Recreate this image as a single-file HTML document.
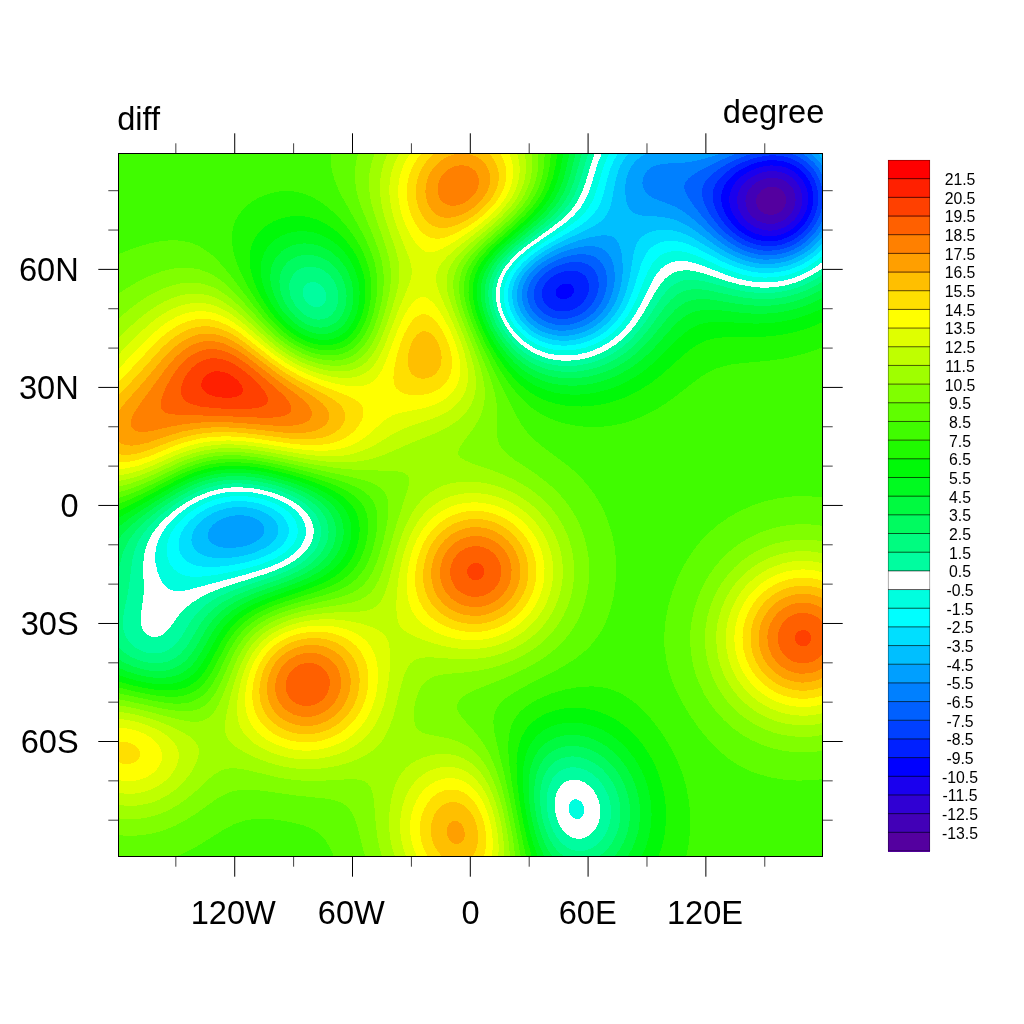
<!DOCTYPE html>
<html><head><meta charset="utf-8"><title>diff</title>
<style>html,body{margin:0;padding:0;background:#fff;}body{width:1024px;height:1024px;position:relative;overflow:hidden;font-family:"Liberation Sans",sans-serif;}.t{font-family:"Liberation Sans",sans-serif;}</style></head>
<body>
<svg width="1024" height="1024" viewBox="0 0 1024 1024" style="position:absolute;left:0;top:0">
<g shape-rendering="crispEdges" fill-rule="evenodd" transform="scale(0.1)">
<rect x="1180" y="1530" width="7050" height="7040" fill="#54009f"/>
<path fill="#4200b7" d="M1195 1530l7035 0 0 7040-7050 0 0-7040zM7673 1875l-28 11-30 19-30 31-15 27-5 17-5 30 4 30 6 20 15 27 26 28 23 15 26 12 30 6 30 1 30-5 30-12 27-17 18-17 20-28 16-45 2-30-5-30-13-30-10-15-14-15-26-18-30-13-30-5-30 0z"/>
<path fill="#3000d3" d="M1195 1530l7035 0 0 7040-7050 0 0-7040zM7659 1785l-44 14-45 22-45 34-31 35-19 30-16 45-5 45 5 45 16 45 29 45 29 30 42 30 40 19 45 12 60 3 45-7 45-16 45-26 34-30 26-32 23-43 14-45 4-45-4-45-15-45-17-30-25-30-40-32-45-21-45-11-45-3z"/>
<path fill="#1a00ee" d="M1195 1530l7035 0 0 7040-7050 0 0-7040zM7622 1725l-52 18-60 32-53 40-40 45-26 45-11 30-7 30-3 45 9 60 24 60 32 48 45 46 60 41 60 26 60 13 45 2 30-2 60-12 60-25 45-29 45-42 37-51 27-60 13-60 1-60-12-60-19-45-32-47-45-42-52-31-53-19-60-9-60 0z"/>
<path fill="#0000ff" d="M1195 1530l7035 0 0 7040-7050 0 0-7040zM7625 1665l-70 21-75 34-33 20-40 30-46 45-23 30-18 30-22 60-7 60 7 60 14 45 13 30 37 60 54 60 64 49 45 25 30 13 75 20 75 6 75-9 75-25 60-34 55-45 49-60 33-60 13-35 10-40 7-75-7-60-10-39-14-36-31-52-49-53-56-39-60-27-75-17-75-3z"/>
<path fill="#0020ff" d="M1195 1530l7035 0 0 7040-7050 0 0-7040zM7673 1605l-88 16-90 30-87 44-45 30-33 26-48 49-23 30-18 30-22 60-5 30-1 45 3 30 10 45 17 45 24 45 53 75 28 30 42 38 75 51 75 34 45 13 45 9 45 4 45-1 45-5 45-10 75-28 74-45 61-56 49-64 37-75 21-75 6-45 0-45-10-75-13-41-15-35-16-29-29-41-30-32-30-26-31-21-44-24-75-26-75-11-45-2zM5659 2835l-24 4-30 12-30 25-15 26-4 23 1 15 6 15 12 16 30 18 30 4 30-4 15-6 22-13 16-15 18-30 4-30-3-15-12-21-15-12-15-7z"/>
<path fill="#0040ff" d="M1195 1530l7035 0 0 7040-7050 0 0-7040zM7642 1560l-102 22-106 38-61 30-52 30-80 60-58 60-20 30-16 30-11 30-7 30-3 30 2 45 10 45 15 45 21 45 26 45 32 45 38 45 46 45 44 37 45 31 45 25 60 26 45 15 45 10 45 6 60 2 45-4 45-7 45-13 45-17 45-22 45-28 39-31 36-35 30-35 25-35 26-45 20-45 15-45 10-45 5-45 1-45-4-45-8-45-14-45-16-37-21-38-24-35-30-34-60-51-30-19-45-22-45-17-45-12-90-11-60 1zM5636 2715l-45 15-33 15-43 27-30 26-21 22-24 36-16 39-5 30 2 45 9 30 17 30 23 27 30 23 30 16 30 11 45 7 60-2 45-10 45-20 45-30 37-37 30-45 17-45 7-45-3-45-15-45-21-30-37-30-34-15-41-8-45-1z"/>
<path fill="#0060ff" d="M1195 1530l6354 0-101 30-109 45-112 60-86 60-35 30-29 30-23 30-16 30-11 30-6 30-1 30 3 30 11 45 17 45 31 60 28 45 44 60 39 45 43 45 51 45 88 62 50 28 55 24 60 20 45 10 45 6 60 3 90-8 45-10 45-14 45-19 45-24 75-53 30-27 40-43 50-71 39-79 15-45 10-45 7-45 3-45-6-75-8-45-14-45-35-75-26-39-29-36-61-56-30-21-45-26-45-19-38-13 338 0 0 7040-7050 0 0-7040zM5692 2625l-57 13-60 22-52 25-53 34-45 38-30 33-29 45-19 45-9 45 0 45 11 45 21 45 36 45 34 29 45 26 45 17 60 11 75 0 75-17 60-26 60-40 46-45 41-60 18-39 12-36 7-30 4-45-5-60-8-30-12-30-31-45-42-34-30-14-30-10-60-8z"/>
<path fill="#0080ff" d="M1195 1530l6189 0-99 38-116 52-121 60-81 45-46 30-37 30-25 30-13 30-3 15 2 30 15 45 25 45 51 75 82 105 78 90 75 75 71 60 62 45 71 43 69 32 66 23 75 17 75 7 75-2 60-8 75-20 60-24 69-38 62-45 49-46 50-59 39-60 31-64 0 6384-7050 0 0-7040zM5729 2550l-79 19-75 28-60 29-72 44-55 45-43 45-31 45-24 49-15 56-2 60 13 60 19 45 30 46 45 46 45 31 60 29 75 20 45 4 45 0 45-5 45-9 75-28 45-24 30-21 36-29 30-30 24-30 30-44 35-76 13-45 9-45 3-45-1-45-7-45-8-30-20-45-20-30-19-21-30-24-30-16-30-11-30-7-45-4-45 1zM8020 1530l210 0 0 234-37-69-46-60-65-60-69-45z"/>
<path fill="#009fff" d="M1195 1530l6029 0-164 53-120 30-105 14-195 10-60 11-45 15-30 17-30 24-18 21-17 30-11 30-5 45 3 30 10 30 18 30 13 15 22 19 30 20 47 21 163 62 45 22 60 37 90 69 231 200 59 45 67 45 63 36 60 28 71 26 64 17 60 10 45 4 90-2 60-8 45-10 90-31 45-22 45-26 75-55 44-42 31-34 32-41 28-44 0 6289-7050 0 0-7040zM5775 2475l-95 25-90 34-90 44-75 46-60 46-60 60-33 45-32 60-17 60-5 30 0 45 10 60 23 60 38 60 46 49 60 45 60 30 45 15 45 11 45 6 45 1 60-4 45-9 45-12 45-17 45-22 45-28 45-35 30-29 30-34 31-42 27-45 21-45 16-45 16-60 9-60 3-60-4-60-8-45-13-45-23-48-19-27-31-30-40-23-30-11-45-8-45-2-60 5zM8110 1530l120 0 0 139-30-42-30-34-34-33-38-30z"/>
<path fill="#00bfff" d="M1195 1530l5299 0-41 15-38 20-36 25-31 30-24 30-27 45-19 45-13 45-10 60-3 60 4 60 9 52 12 38 18 35 30 32 30 17 30 9 45 8 150 10 75 9 60 13 60 20 60 27 75 43 256 182 70 45 64 36 75 36 75 28 75 20 75 12 90 3 90-8 90-20 75-27 75-38 83-57 67-61 60-71 0 6212-7050 0 0-7040zM6006 2355l-101 17-120 33-120 44-120 54-90 49-90 62-65 56-55 63-28 42-16 30-22 60-10 60-1 45 3 30 10 45 10 30 20 45 18 30 46 60 60 53 45 30 45 23 45 17 60 16 45 7 60 3 45-2 60-9 60-15 45-16 45-21 46-26 44-31 45-38 35-36 36-45 34-53 30-58 27-69 17-60 14-75 8-75 1-75-5-75-9-60-17-60-12-30-24-35-30-24-30-12-45-6zM2307 5160l-62 18-60 28-30 21-27 23-34 45-16 45 1 30 4 15 17 30 15 15 21 15 49 21 42 9 33 4 75 0 75-10 75-19 60-26 45-29 26-25 12-15 8-15 9-30-2-30-4-15-19-31-15-15-30-22-45-22-45-14-30-5-75-4zM8185 1530l45 0 0 61-59-61z"/>
<path fill="#00dfff" d="M1195 1530l5099 0-29 31-32 44-26 45-20 45-31 105-36 195-13 60-15 45-14 30-31 45-47 45-68 45-72 37-210 98-105 53-92 52-88 59-75 60-60 61-45 60-18 30-21 45-14 45-8 45-2 45 5 60 11 45 16 45 22 45 29 45 36 45 34 34 45 36 45 29 45 22 45 18 45 13 60 11 75 5 75-4 75-14 75-24 75-34 60-38 60-47 52-52 47-60 38-60 30-60 30-75 23-75 18-75 46-270 24-75 22-39 31-36 42-30 47-21 60-16 75-7 75 5 75 18 60 22 75 36 270 164 73 39 62 29 75 30 75 22 75 15 75 8 90-1 75-9 90-21 75-28 75-38 75-49 60-50 60-62 0 6144-7050 0 0-7040zM2263 5085l-48 13-49 17-41 19-46 26-42 30-34 30-28 31-31 44-14 30-13 45-3 30 3 30 10 30 17 30 30 30 22 15 29 15 43 15 42 9 60 6 60 1 75-4 75-10 60-12 60-15 60-20 90-41 31-19 38-30 28-30 20-30 12-30 5-30-1-30-8-30-16-30-23-30-34-30-37-24-42-21-48-18-46-12-59-10-60-4-45 0-45 4z"/>
<path fill="#00ffff" d="M1195 1530l4989 0-46 75-37 90-23 75-46 180-26 75-30 60-42 60-59 57-64 48-86 53-270 154-90 59-75 57-72 67-51 60-42 66-29 69-11 45-6 60 1 45 10 60 18 60 20 45 25 45 32 45 39 45 36 34 45 35 45 28 45 23 60 23 45 13 60 11 75 5 75-4 75-12 75-21 74-30 61-33 61-42 68-60 42-45 45-60 38-60 38-75 47-120 78-255 18-45 23-45 32-45 29-30 36-26 45-22 60-16 60-4 60 6 60 14 60 21 60 26 258 136 132 58 75 25 75 19 75 12 60 5 90-1 75-9 90-20 75-27 75-35 70-42 65-49 60-55 0 6079-7050 0 0-7040zM2247 5025l-62 16-60 20-60 28-60 34-51 37-51 45-41 45-31 45-24 45-15 45-7 45 1 45 11 45 24 45 26 30 38 29 45 22 45 13 60 9 60 3 75-3 90-9 90-14 90-18 75-19 75-24 60-23 60-28 46-28 44-33 30-29 32-43 14-30 12-45-1-45-12-45-26-45-26-30-33-30-44-30-59-30-52-20-60-18-60-12-75-8-60-1-60 3z"/>
<path fill="#00fedf" d="M1195 1530l4901 0-30 60-30 75-67 225-31 90-38 75-42 60-56 60-73 60-88 60-261 166-81 59-69 57-63 63-48 60-39 67-26 68-11 45-5 60 1 45 9 60 17 59 19 46 26 51 35 54 40 49 41 41 49 41 45 30 45 25 60 26 60 19 60 12 75 7 75-1 90-12 75-18 75-28 75-37 60-38 60-47 45-43 50-56 44-60 38-60 60-120 108-264 45-80 30-39 30-29 32-23 43-21 45-13 60-6 45 3 60 11 105 35 255 116 135 51 75 22 75 16 75 9 60 3 90-3 75-10 75-17 75-25 75-33 75-43 60-42 60-50 0 6017-7050 0 0-7040zM2296 4965l-81 13-75 20-75 29-86 43-69 45-57 45-62 60-49 60-36 60-24 60-14 60-1 60 10 60 24 60 34 48 45 38 45 22 45 13 60 7 75-1 90-9 105-16 135-27 120-28 105-29 75-25 75-30 60-29 60-36 43-33 32-30 35-45 23-45 13-45 2-45-8-45-18-45-31-45-31-33-45-37-57-35-63-30-60-22-75-20-75-14-75-8-75-1z"/>
<path fill="#ffffff" d="M1195 1530l4825 0-43 105-68 225-27 75-35 75-48 75-59 67-77 68-81 60-262 180-78 60-67 60-65 71-45 64-32 60-24 75-8 45-3 60 5 60 12 60 20 60 27 60 33 56 35 49 40 48 45 44 45 36 60 40 45 24 60 25 60 18 60 12 75 8 75-1 90-10 75-17 75-24 75-34 75-43 60-44 59-52 44-45 49-60 42-60 69-120 112-228 30-52 25-35 35-41 30-26 36-23 39-17 45-11 45-4 45 2 45 7 105 30 253 98 122 40 75 18 75 13 75 8 60 1 75-4 75-9 75-17 75-24 75-31 60-31 75-48 60-46 0 5955-7050 0 0-7040zM2284 4920l-99 17-96 28-99 42-87 48-86 60-71 60-71 75-54 75-38 75-23 75-9 75 4 75 19 90 30 75 16 30 25 34 15 15 30 22 30 13 45 8 60-3 60-11 555-148 180-54 75-26 72-30 61-30 47-27 47-33 35-30 38-40 25-35 22-45 14-45 3-60-7-45-17-45-27-45-39-45-53-45-71-44-64-31-80-30-81-23-90-17-75-8-90-2zM5737 7995l-12 5-15 12-17 28-6 30 4 45 12 30 22 28 30 17 30 0 15-6 15-11 18-28 8-30-3-45-12-30-11-17-15-14-30-15-15-2z"/>
<path fill="#00fd9f" d="M1195 1530l4754 0-32 90-58 195-32 90-42 90-48 75-57 66-74 69-96 75-250 182-71 58-63 60-61 70-44 65-35 75-20 75-7 60 2 60 8 60 16 60 22 60 29 60 36 60 38 53 45 52 45 44 45 37 60 40 60 32 60 24 60 18 60 13 75 8 75 0 90-8 75-15 75-22 75-31 75-39 75-49 60-48 45-43 47-51 48-60 79-120 126-220 60-84 30-32 30-26 30-19 45-21 45-11 45-4 45 1 45 6 90 22 255 84 120 32 135 23 75 5 60 0 75-5 75-11 75-17 60-19 75-30 60-29 75-45 60-42 0 5892-7050 0 0-7040zM2311 4875l-114 15-117 31-109 44-110 60-109 75-106 90-43 45-39 45-33 45-28 45-22 45-23 60-11 45-10 60-5 90 5 180 0 75-7 75-20 135-4 60 3 45 12 45 14 25 15 19 30 24 30 12 45 5 43-10 32-17 30-23 30-32 100-138 54-60 72-60 89-56 100-49 112-45 118-40 330-104 96-36 84-37 90-49 67-49 60-60 38-55 22-50 14-60-1-60-10-45-19-45-36-56-45-47-45-37-62-40-88-44-81-31-84-25-90-20-90-12-90-5zM5705 7800l-40 13-30 18-30 29-30 47-16 43-11 60-1 60 7 60 16 60 20 50 30 50 30 36 36 29 39 21 45 11 45-1 45-14 45-28 34-34 26-38 23-52 11-45 6-60-5-60-16-60-20-45-29-46-45-48-45-31-45-20-45-8z"/>
<path fill="#00fc80" d="M1195 1530l4688 0-80 270-26 75-40 90-46 75-60 75-76 75-91 75-256 195-69 60-61 60-58 71-41 64-33 75-19 75-6 60 2 60 8 60 20 75 24 63 35 72 36 60 44 60 50 58 45 44 45 38 60 41 60 33 60 26 60 19 75 17 75 8 75 2 90-7 75-14 90-24 75-29 75-37 67-40 53-38 60-51 47-46 54-60 89-120 140-216 60-75 30-29 32-25 28-18 45-19 30-9 45-6 45-1 45 4 90 16 255 70 120 26 135 16 120 1 75-6 75-12 60-14 75-23 75-30 60-28 60-34 60-40 0 5827-7050 0 0-7040zM3072 2835l-17 13-13 17-7 15-8 30 4 45 11 30 13 22 15 19 21 19 39 21 30 6 15 0 30-8 15-8 25-26 8-15 8-30 1-30-6-30-21-43-30-32-23-15-22-9-30-6-15 1-15 2zM2220 4845l-110 24-120 41-113 55-123 75-122 90-69 60-46 45-77 90-31 45-26 45-37 90-23 90-33 270-13 75-38 180-9 60-2 45 2 45 9 45 16 45 15 28 23 32 29 30 38 30 30 17 30 14 45 14 45 8 30 2 45-2 30-6 45-15 30-16 45-33 53-58 37-54 85-141 57-75 59-60 58-45 98-60 123-57 128-48 322-109 101-41 79-38 75-44 69-53 57-60 39-60 24-60 12-60-1-60-15-60-28-60-37-50-56-55-62-45-79-45-103-45-105-35-102-25-108-18-105-8-90 1zM5671 7680l-51 19-30 18-28 23-37 45-30 60-21 75-8 75 3 90 12 75 20 75 31 75 43 73 45 52 45 36 30 17 30 12 30 7 30 4 60-4 60-20 30-16 30-21 50-50 41-60 33-75 17-75 5-75-3-45-6-45-11-45-16-45-35-69-49-66-56-53-60-38-31-14-44-14-60-8-30 1z"/>
<path fill="#00fb60" d="M1195 1530l4625 0-62 225-29 90-38 90-52 90-58 75-74 75-86 75-264 210-67 60-58 60-59 75-44 75-28 75-15 75-3 60 6 75 11 60 23 75 31 75 36 69 45 71 45 61 47 54 58 55 45 37 60 41 60 32 60 26 75 24 60 12 75 10 90 2 75-5 90-15 75-19 75-25 75-33 75-41 60-40 60-46 51-45 59-60 87-105 163-224 60-67 60-49 34-20 41-17 30-8 45-7 45-2 45 3 90 14 225 49 120 21 135 13 120-2 75-7 60-10 60-14 75-22 60-22 75-33 60-31 60-37 0 5757-2251 0 61-45 30-30 29-35 39-60 34-75 21-75 12-90-1-90-15-90-29-90-38-75-52-74-59-61-61-46-75-39-75-23-75-8-60 6-60 17-30 15-30 19-45 41-36 48-29 60-22 75-11 75-2 90 10 105 21 105 29 90 40 90 45 72 45 52 56 46-4466 0 0-2104 27 29 33 29 60 40 75 35 75 22 75 11 75 0 75-16 60-26 30-19 30-24 49-52 43-60 97-165 39-60 62-75 66-60 87-60 116-60 131-54 274-96 116-44 105-48 90-52 49-36 41-36 36-39 33-45 24-45 18-45 10-45 5-45-4-60-17-60-30-60-33-45-44-45-57-45-71-45-80-40-90-37-105-34-105-26-105-19-105-11-90-2-90 5-93 14-87 21-90 31-86 38-86 45-99 60-109 75-96 75-85 75-58 60-38 45-42 60-33 60-25 60-19 60-18 75-16 92 0-4217zM3052 2670l-42 13-45 27-33 35-25 45-13 45-2 45 8 60 15 45 31 60 34 45 45 43 45 30 45 20 60 13 45-2 45-13 30-17 33-29 27-39 20-51 8-45 1-45-9-60-15-45-24-45-26-36-30-31-45-34-45-22-45-12-45-5z"/>
<path fill="#00fa40" d="M1195 1530l4562 0-48 195-32 105-37 90-50 90-57 75-86 90-85 75-252 207-68 63-56 60-56 75-42 75-27 75-14 75-2 60 6 75 16 75 24 75 31 75 38 75 46 75 54 75 50 59 60 59 45 38 60 43 60 35 75 33 60 20 75 18 75 10 90 4 90-6 75-10 90-21 75-24 75-31 75-38 60-37 60-42 62-50 58-55 101-110 154-192 74-78 61-46 30-17 45-19 75-15 90-2 90 10 210 36 120 15 135 7 120-5 135-21 120-33 120-47 120-64 0 5681-2091 0 51-65 45-79 34-86 22-90 9-90-3-105-15-90-27-90-41-90-46-75-63-75-65-59-75-50-75-35-45-15-45-10-75-8-75 6-60 16-60 28-50 37-42 45-38 60-31 75-17 75-10 90 0 105 11 105 19 105 28 105 39 105 45 90 44 65-4348 0 0-1981 71 41 79 34 90 28 90 16 75 3 75-6 60-15 66-30 62-45 55-60 51-75 94-165 47-73 60-74 60-56 47-37 45-30 118-63 135-56 270-97 120-47 110-52 85-51 51-39 39-36 34-39 32-45 24-45 17-45 12-45 6-60-3-60-11-45-24-60-28-45-37-45-48-45-62-45-62-37-77-38-103-42-102-33-93-25-93-20-102-16-105-8-90-1-75 6-60 8-60 11-75 21-71 24-64 27-135 68-93 55-115 75-106 75-78 60-71 60-47 45-55 60-35 47 0-3872zM3036 2550l-41 8-30 9-54 28-21 15-30 29-33 46-24 60-9 60 4 75 19 75 33 75 50 75 55 60 36 30 34 24 38 21 35 15 62 17 45 4 30-2 30-4 30-10 45-23 30-23 18-19 32-45 27-60 14-60 5-75-6-60-20-75-26-60-40-60-49-53-45-36-60-33-60-20-60-10z"/>
<path fill="#00fa20" d="M1195 1530l4501 0-40 180-29 105-36 90-49 90-67 90-70 75-82 75-258 218-70 67-54 60-55 75-40 75-26 75-8 45-5 45 1 75 11 75 19 75 26 75 36 82 45 86 45 73 60 83 45 54 60 63 60 52 60 43 60 35 75 35 60 21 75 18 75 12 90 5 90-3 75-9 75-14 90-25 90-33 75-35 105-61 105-79 66-58 60-60 174-196 60-61 75-60 45-26 45-19 75-17 90-5 90 6 210 25 120 9 120 1 105-7 120-19 120-32 120-44 120-59 0 5594-1956 0 51-91 37-94 24-90 13-105 1-105-13-105-26-105-41-105-50-90-65-88-75-77-75-58-75-44-90-37-90-22-90-6-75 7-75 20-60 27-60 42-45 46-45 68-27 62-21 75-13 90-4 105 6 120 16 120 25 120 33 122 37 103 45 95-4267 0 0-1895 90 39 105 33 90 20 90 11 75 1 75-9 72-20 60-30 33-23 30-26 30-31 32-40 49-75 109-195 62-90 69-75 69-57 98-63 125-60 113-45 293-105 136-58 105-58 48-34 37-30 35-35 34-40 30-45 24-45 17-45 12-45 8-45 2-45-6-60-11-45-25-60-28-45-38-45-49-45-60-44-52-31-83-42-90-38-105-36-105-31-105-26-105-19-105-13-90-5-135 4-120 19-120 33-123 49-147 75-199 120-228 150-128 98 0-3743zM2959 2445l-39 11-43 19-32 18-30 22-48 50-27 42-15 33-10 30-9 45-3 75 5 45 9 45 31 90 47 90 30 45 36 45 74 73 75 54 79 38 41 13 45 10 45 3 45-2 41-9 34-12 55-33 50-49 28-41 16-30 28-75 9-45 6-45 0-90-15-90-27-79-37-71-53-71-60-58-30-23-45-28-75-33-75-18-75-5-45 4z"/>
<path fill="#00f908" d="M1195 1530l4439 0-27 150-31 120-40 105-50 90-55 75-82 90-81 75-248 214-73 71-52 60-53 75-39 75-24 75-8 45-4 45 3 75 11 75 19 75 31 90 40 90 46 90 58 96 60 86 60 74 60 64 60 54 60 45 60 37 75 36 60 22 75 21 75 13 90 8 90-1 90-8 90-16 90-23 90-31 75-33 120-67 105-73 120-105 180-182 75-69 75-55 45-23 45-18 75-17 75-7 90 1 210 13 105 4 120-3 105-11 120-22 105-28 120-43 105-49 0 5490-1817 0 43-95 32-105 20-105 8-120-7-120-22-120-31-105-45-105-62-105-68-90-76-77-90-71-90-53-45-20-60-22-90-22-60-8-45-2-90 6-75 17-75 28-45 25-30 21-48 43-47 60-39 75-25 75-16 90-7 105 3 120 13 135 22 135 32 150 37 135 44 125-4199 0 0-1823 105 36 105 29 105 20 105 11 75-1 75-10 72-22 58-30 35-25 39-35 26-30 34-45 51-82 102-188 63-94 33-41 42-43 73-62 47-32 60-35 120-57 120-47 300-106 126-53 59-30 50-30 80-60 32-30 38-45 31-45 25-45 19-45 18-60 10-60 2-45-4-60-9-45-22-60-25-45-34-45-45-45-58-45-68-41-75-39-95-40-115-41-120-36-120-31-105-21-105-16-105-9-120 0-120 12-120 26-120 40-105 47-120 62-525 304 0-3652zM2907 2325l-47 14-45 19-45 26-30 22-30 27-35 42-25 39-17 36-14 45-9 45-3 45 2 45 5 45 13 60 14 45 24 60 29 60 35 60 71 98 45 50 45 42 45 36 45 31 49 28 56 24 60 19 45 8 45 3 45-2 45-8 45-16 30-15 41-28 32-30 25-30 29-45 22-45 17-45 12-45 9-45 7-60 2-60-3-45-8-60-10-45-31-90-47-90-31-45-36-44-30-32-45-39-75-52-45-23-45-19-45-14-45-9-45-5-60-1-45 5z"/>
<path fill="#20fa00" d="M1195 1530l4378 0-19 135-28 120-38 105-47 90-64 90-82 90-80 75-240 210-76 75-52 60-32 45-28 45-33 75-20 75-6 45-1 45 5 75 17 90 27 90 35 90 48 105 56 105 60 100 75 109 60 75 60 65 60 55 60 47 60 38 60 31 75 31 75 22 75 15 90 10 90 2 90-5 90-12 90-19 90-27 90-34 120-59 120-76 126-98 204-185 67-55 83-55 45-22 45-17 75-18 75-9 90-3 285-2 105-7 105-13 120-24 105-29 90-31 105-45 0 5350-1647 0 38-110 15-60 13-75 12-120-2-135-15-120-32-135-42-120-59-120-66-105-45-59-40-46-50-51-44-39-91-68-45-27-60-31-105-40-105-24-60-6-60-2-105 8-90 20-90 33-75 41-66 51-29 30-25 32-42 73-27 75-18 90-8 105 2 120 12 135 23 165 33 180 40 177 44 158-4139 0 0-1758 120 35 120 28 105 19 105 10 90 0 75-11 60-18 60-30 45-33 30-28 30-34 30-40 49-80 116-218 64-97 64-75 37-35 45-37 48-33 57-34 60-31 75-34 135-51 300-102 120-48 61-30 51-30 43-30 40-33 41-42 35-45 29-45 29-60 17-45 17-60 10-60 4-60-4-60-12-60-23-60-26-45-37-45-49-45-46-33-60-36-75-38-105-43-129-45-126-38-135-34-120-26-105-17-105-11-135-3-120 9-120 23-105 31-90 36-97 45-383 204-210 104 0-3578zM2845 2175l-60 18-45 19-45 24-45 31-45 40-30 35-29 43-22 45-15 45-11 60-3 45 2 60 10 60 15 60 20 60 24 60 37 75 34 60 49 75 45 60 52 60 61 60 54 45 52 37 60 35 60 28 60 20 60 13 60 5 45-2 60-10 45-16 45-24 35-26 31-30 36-45 28-45 22-45 22-60 17-60 11-60 6-60 2-60-3-60-7-60-13-60-19-60-24-60-24-50-32-55-42-60-38-45-38-41-45-42-45-35-60-40-60-31-45-18-45-14-60-13-45-5-60 0-60 5z"/>
<path fill="#40fc00" d="M1195 1530l4315 0-13 135-21 105-35 105-45 90-61 90-79 90-94 90-254 225-72 75-49 60-47 75-21 45-16 45-15 75-3 90 11 90 22 90 35 105 44 105 58 123 75 141 75 127 75 113 60 80 60 70 60 60 60 51 60 42 75 42 75 33 90 30 90 21 75 12 75 8 90 2 75-3 90-11 75-14 75-19 90-30 75-31 75-37 75-42 75-47 75-53 210-163 75-55 75-46 75-34 77-25 88-18 101-12 259-23 180-27 90-21 90-24 90-30 90-34 0 5099-1371 0 16-65 13-75 14-135 1-135-14-150-25-135-39-135-53-135-68-135-83-135-101-134-97-106-53-49-45-37-90-60-45-23-60-25-45-14-60-13-60-8-60-2-120 7-135 25-135 39-75 30-60 27-98 58-40 30-33 30-28 30-33 45-17 30-19 45-19 75-10 90 1 105 12 135 24 180 39 225 50 255 53 245-4082 0 0-1697 150 37 135 29 120 20 90 8 90 0 75-11 60-19 60-32 45-35 30-30 57-75 48-82 111-218 35-60 34-50 31-40 40-45 79-69 60-42 60-35 60-30 75-32 135-49 324-103 117-45 62-30 51-30 41-30 35-30 42-45 34-45 35-60 27-60 21-60 19-75 11-75 4-60-3-60-11-60-22-60-26-45-38-45-33-30-60-43-57-32-93-42-105-39-119-39-157-45-144-37-135-29-120-20-105-12-135-6-120 7-120 19-105 29-75 27-90 38-405 205-120 54-105 42 0-3512zM2757 1920l-62 15-60 21-60 28-60 37-45 35-45 44-35 45-35 60-17 45-14 60-6 60 2 60 9 60 14 60 24 75 30 75 50 105 49 90 65 105 63 90 59 75 68 75 64 62 72 58 67 45 71 38 75 31 75 20 75 10 60-1 60-9 60-20 45-24 45-33 40-42 34-45 26-45 28-60 22-60 20-75 14-75 8-75 2-75-4-60-10-70-15-65-18-60-24-60-33-69-45-79-45-67-60-79-60-68-60-60-60-53-60-45-45-29-60-33-60-25-60-18-60-11-60-4-60 2z"/>
<path fill="#60fe00" d="M3310 1530l2137 0-6 120-17 105-31 105-42 90-59 90-76 90-91 90-269 240-72 75-58 75-43 75-19 45-13 45-8 45-4 45 0 45 6 60 19 90 27 90 39 105 50 117 90 192 240 489 60 116 45 76 60 81 75 77 75 63 246 184 71 60 73 72 69 78 55 75 48 75 48 90 44 105 42 135 24 120 13 120 4 120-8 135-19 135-29 120-43 120-28 60-34 60-64 90-40 45-46 45-94 75-117 75-125 68-279 142-127 75-61 45-46 45-33 45-21 45-11 45-3 45 2 45 8 60 22 105 84 349 45 205 63 316 50 275-1866 0-47-103-45-70-54-57-36-27-30-18-45-22-60-22-120-31-150-24-135-9-75 3-75 11-71 19-64 25-105 56-195 123-105 62-90 45-92 39-568 0 0-1639 360 78 105 17 90 9 75 0 75-10 60-20 55-30 35-27 30-30 30-36 30-44 49-88 116-240 62-105 33-45 40-47 44-43 46-38 60-42 60-35 72-35 78-32 165-55 315-89 120-42 47-22 54-30 42-30 37-33 45-51 35-51 32-60 31-75 28-90 21-90 14-90 4-75-2-60-11-60-16-45-25-45-24-30-42-38-45-30-60-31-87-36-123-40-150-43-199-52-176-42-135-28-120-20-105-12-135-7-120 6-120 18-105 28-90 31-90 39-300 147-105 49-105 42-105 36 0-2438 120-49 120-40 105-28 105-18 90-7 90 5 75 14 75 26 45 23 60 38 60 47 60 58 105 121 236 311 111 135 55 60 63 63 60 53 64 49 71 46 86 44 79 30 75 19 75 10 75-1 75-13 60-23 60-38 30-26 31-33 52-75 24-45 26-60 39-120 25-120 11-120-2-105-9-75-17-76-28-89-32-80-75-151-191-339-37-75-31-75-23-75-16-75-6-75 1-60zM7930 4964l75-3 75 1 150 13 0 2816-120 12-135 3-135-9-120-20-120-31-105-38-105-53-105-69-90-74-105-107-105-128-95-137-87-150-64-135-48-135-29-120-17-135-1-135 13-135 26-135 43-150 53-135 67-135 76-120 78-100 90-94 90-78 105-74 120-67 135-59 120-38 135-30z"/>
<path fill="#80ff00" d="M3580 1534l1-4 1801 0 0 120-6 60-11 60-16 60-16 45-28 60-25 45-65 90-81 90-80 75-238 210-60 60-52 60-52 75-30 60-23 75-9 75 1 60 8 60 16 75 23 75 56 150 181 435 38 105 30 105 19 90 10 90 2 75-3 180 6 45 15 45 16 30 22 30 46 45 79 60 210 140 90 68 60 51 58 56 47 51 44 54 43 60 46 75 38 75 26 60 26 75 20 75 15 75 10 75 5 105-5 120-19 120-27 105-39 105-45 90-58 90-61 75-58 60-66 57-75 55-75 48-105 58-120 57-120 52-234 93-98 45-50 30-35 30-21 30-11 30-1 15 4 30 21 45 34 45 136 153 60 82 45 75 30 57 55 128 59 180 57 225 51 255 32 230-1501 0-31-110-49-195-30-90-23-47-30-43-30-28-30-21-30-15-45-16-90-18-315-33-330-47-105-11-75 0-60 6-60 13-60 23-45 23-60 36-195 139-105 67-105 55-105 43-105 30-120 21-120 7-120-7 0-1362 450 97 90 15 75 9 75 2 60-7 60-18 45-25 30-23 35-35 34-45 28-45 53-105 106-240 31-60 36-60 37-53 43-52 46-45 46-38 60-42 75-42 75-34 90-34 165-48 345-81 105-33 51-23 51-30 39-30 30-30 39-49 42-71 33-75 32-90 35-120 32-135 20-120 6-90-1-45-8-45-15-45-18-30-26-30-39-30-48-25-45-18-75-23-100-24-740-162-210-37-165-17-120-2-105 7-105 17-105 28-75 26-90 37-285 136-105 46-120 45-105 30 0-1982 105-71 105-61 120-57 105-38 105-27 90-11 90 1 90 15 75 26 60 29 60 38 60 46 60 54 60 60 240 264 104 105 61 55 60 48 60 42 60 37 75 38 90 36 75 20 75 12 75 3 75-8 60-17 54-26 61-45 55-60 48-75 43-90 43-120 31-120 21-120 7-105-2-75-6-60-13-75-20-75-48-135-131-315-31-90-22-90-13-90-3-90 9-90zM7900 5249l75-6 90-1 75 5 90 12 0 2247-75 11-105 7-120-4-105-14-105-24-105-35-105-48-90-52-90-65-90-81-70-76-69-90-56-90-52-105-34-90-30-105-20-120-7-105 3-120 14-105 27-120 34-105 46-105 58-105 63-90 78-90 75-71 90-69 90-56 105-52 90-34 105-29z"/>
<path fill="#9fff00" d="M3745 1537l3-7 1567 0 6 60 1 60-4 60-9 60-15 60-22 60-29 60-27 45-55 75-82 90-97 90-209 180-63 60-42 45-49 60-29 45-29 60-15 45-11 60-2 60 6 60 15 75 22 75 32 90 132 330 54 150 22 75 17 75 12 75 4 60-2 60-8 60-16 60-23 60-32 60-33 52-127 173-22 45-4 30 2 15 7 15 13 15 47 30 73 30 191 66 120 47 105 48 90 50 75 48 75 57 75 68 61 66 67 90 52 90 47 105 32 105 20 105 8 105-4 120-16 105-23 90-27 75-34 75-34 60-52 75-50 60-59 60-63 53-90 63-105 58-105 47-105 36-105 28-105 20-105 13-180 15-75 11-60 16-45 20-37 25-30 30-23 32-23 43-17 45-17 60-11 60-5 60 3 60 10 45 15 31 30 32 30 18 45 16 225 45 60 18 60 25 60 34 60 45 60 62 45 59 45 74 45 94 41 107 37 120 34 135 29 150 19 135 10 125-1278 0-27-95-24-120-14-120-17-225-9-60-11-45-22-45-28-31-22-14-23-9-60-12-90-1-300 17-90-1-90-5-105-11-105-18-300-71-75-15-75-7-60 4-60 17-60 34-60 48-146 135-91 75-93 64-105 55-60 25-60 19-60 15-60 11-60 6-60 2-60-2-60-7 0-1132 105 18 119 26 346 91 105 23 60 8 45 1 45-5 45-15 44-28 31-31 30-40 30-52 45-99 117-303 35-75 41-75 40-60 37-46 45-47 49-42 71-49 75-41 75-33 90-31 105-30 105-22 315-51 90-18 45-13 45-18 60-36 45-41 38-52 33-60 34-84 41-126 109-368 103-322 15-60 3-45-6-30-9-15-16-14-33-16-42-10-90-7-315-8-195-17-240-36-420-83-150-25-165-19-135-3-90 4-90 12-90 19-75 22-75 26-75 31-255 119-120 51-120 41-105 26 0-1676 105-93 105-80 105-67 105-54 105-40 105-26 90-7 90 6 60 13 75 26 60 30 75 49 60 47 60 53 254 251 117 105 64 50 60 42 70 43 65 33 75 32 90 29 75 16 75 8 75-1 60-9 60-19 60-32 52-42 53-61 46-74 44-91 50-134 40-135 27-120 16-120 2-60-2-60-7-60-14-75-36-120-111-315-28-105-16-90-7-105 5-90 19-105zM7945 5399l75-4 75 2 75 8 60 11 0 1933-120 17-90 3-105-6-90-15-90-23-90-33-90-44-78-48-79-60-68-63-64-72-56-77-52-88-41-90-30-90-21-90-13-90-4-90 6-105 16-105 24-90 32-90 43-90 54-90 56-75 65-70 73-65 77-56 75-44 90-43 90-31 105-25z"/>
<path fill="#bfff00" d="M3880 1530l1365 0 10 60 5 60-1 60-8 60-14 60-21 60-29 60-26 45-68 90-87 90-91 82-224 188-94 90-51 60-30 45-30 60-13 45-7 45-1 60 8 60 14 60 47 135 111 274 49 131 40 135 20 105 5 60 0 45-5 60-10 45-15 45-20 45-19 32-30 41-45 49-60 50-75 49-75 39-75 33-225 89-255 113-105 36-90 22-90 13-90 7-90 0-105-6-210-26-390-71-165-25-90-9-90-5-75-1-75 4-135 19-75 17-60 18-135 50-268 122-107 43-120 38-105 20 0-1423 134-133 106-93 119-87 106-61 75-33 60-21 75-17 60-7 60 0 60 7 60 14 60 21 90 47 105 74 90 76 251 230 79 65 75 54 75 47 90 48 90 38 90 29 90 19 75 9 75 1 60-8 60-17 60-29 45-34 45-48 39-54 42-75 34-75 42-105 56-165 46-150 22-90 13-90 1-90-5-45-11-60-29-105-79-225-28-90-26-105-15-105-4-60 1-60 14-105 28-105zM4660 4815l60 1 60 4 75 12 60 13 75 22 60 23 60 26 60 31 105 68 60 49 45 43 45 49 39 49 30 45 35 60 29 60 23 60 19 60 13 60 10 60 5 60 0 75-4 60-12 75-14 60-19 60-24 60-29 60-27 45-41 60-37 45-42 45-50 45-54 42-60 40-60 34-75 35-60 23-75 22-75 17-60 10-135 10-105-1-225-17-90-1-68 11-22 8-30 16-30 26-20 25-25 45-15 37-30 98-51 210-33 120-38 105-44 90-29 45-24 30-28 30-38 33-37 27-51 30-107 49-75 26-75 20-75 16-75 12-75 7-90 2-75-3-75-8-75-13-90-21-75-23-90-33-75-33-83-43-67-42-41-33-30-30-21-30-13-30-10-45-1-45 3-45 25-135 28-120 33-120 29-90 34-90 34-75 32-60 40-60 38-47 42-43 34-30 44-33 45-29 105-53 120-43 135-32 135-19 135-11 225-7 75-7 45-10 30-10 45-26 22-20 23-28 20-32 20-45 35-105 88-330 49-150 36-90 37-79 40-71 35-52 45-55 45-45 60-46 60-35 60-27 75-22 75-13zM7915 5518l75-7 90 1 75 8 75 14 0 1696-90 17-90 7-90-3-90-12-75-17-75-25-75-33-75-41-75-53-60-51-60-62-56-72-47-75-38-75-28-75-21-75-16-90-7-90 3-90 9-75 20-90 24-75 32-75 41-75 51-75 63-73 60-57 64-50 71-46 75-38 75-29 90-25zM1195 7117l120 20 134 33 139 45 114 45 123 60 71 45 51 45 30 45 10 30 3 30-8 60-29 75-24 45-29 45-59 75-76 73-75 55-90 50-45 19-60 20-105 22-105 5-105-9 0-935zM4360 7544l75-5 60 4 75 15 60 23 60 34 60 48 45 48 45 61 45 79 38 84 37 103 30 106 26 121 16 105 9 105 2 95-1092 0-26-80-20-90-11-90-4-105 6-105 13-90 21-90 25-75 30-65 35-55 39-45 46-39 58-36 62-27 75-23z"/>
<path fill="#dfff00" d="M4000 1530l1171 0 12 45 11 60 3 60-3 60-8 45-16 60-17 45-28 55-32 50-72 90-91 90-105 88-251 197-100 90-41 45-33 45-17 30-17 45-5 30 0 45 8 45 13 45 35 90 123 269 57 136 46 135 28 120 8 60 2 45-3 60-8 45-12 45-19 45-24 40-30 39-30 31-45 38-45 29-60 32-90 37-195 63-90 35-90 44-174 107-81 43-90 36-90 25-75 12-75 6-75 1-90-4-180-20-375-63-165-23-165-10-75 1-75 4-135 20-120 32-135 49-240 107-105 42-120 36-60 12-60 7 0-1202 195-201 120-110 75-59 60-41 60-34 60-28 60-23 60-15 60-9 45-3 60 3 60 11 45 13 60 23 90 49 90 64 75 61 240 208 75 59 75 52 90 55 90 46 90 38 90 30 90 22 90 14 75 4 75-6 60-15 45-21 45-31 45-45 30-40 30-49 58-123 137-351 98-234 25-75 8-45 1-60-15-75-21-60-96-236-39-109-33-120-16-105-4-60 1-60 6-60 11-60 16-60 22-60 37-75 9-15zM4645 4934l75-4 75 3 75 10 90 22 75 26 75 35 74 44 61 45 60 53 48 52 45 60 46 75 28 60 27 75 19 75 11 75 3 75-3 75-12 75-19 75-28 75-37 75-38 60-47 60-58 60-60 50-60 41-75 42-75 32-75 24-75 17-90 12-60 3-75-1-75-6-75-12-75-15-90-25-82-27-83-32-87-43-43-30-20-20-18-25-14-30-11-45-6-45-3-105 7-120 16-135 21-120 26-105 34-105 38-95 44-85 46-71 45-56 60-59 60-45 60-35 75-32 75-21zM7975 5609l60-2 75 5 60 8 60 14 0 1496-75 16-75 9-75 1-75-6-75-13-75-22-75-30-60-31-60-38-60-47-57-54-48-56-45-64-34-60-33-75-24-75-16-75-9-75-1-75 6-75 13-75 21-75 30-75 32-63 45-70 45-57 48-50 57-49 60-43 75-42 60-26 75-25 75-17zM3205 6194l105-1 90 5 105 15 90 19 90 27 75 30 60 35 37 36 23 45 12 45 7 75 1 105-7 120-13 105-20 105-23 90-26 75-36 80-41 70-45 60-49 52-60 50-60 40-60 32-75 31-90 27-75 15-90 10-90 2-90-7-90-16-75-20-61-21-69-30-57-30-53-35-45-36-34-34-35-45-26-45-17-45-10-45-7-60-1-60 6-75 11-75 16-75 20-75 26-75 25-60 30-60 27-45 33-45 38-45 47-45 38-30 53-36 60-32 60-26 60-21 60-17 75-16 75-11zM1195 7189l90 12 90 20 90 29 90 38 61 32 66 45 47 45 33 45 19 45 6 30 2 30-8 60-24 60-38 60-44 49-60 50-60 36-45 21-45 16-90 21-45 4-60 1-90-10 0-741zM4375 7680l60-11 60-2 60 8 60 18 60 31 45 33 45 43 45 56 39 64 37 75 34 90 30 105 21 105 11 90 5 90-4 95-920 0-24-65-20-75-11-60-7-75 0-75 7-75 15-75 18-60 24-60 32-60 30-45 40-45 43-39 54-36 51-25z"/>
<path fill="#ffff00" d="M4105 1531l985-1 27 75 10 45 5 45 0 45-5 45-17 75-17 45-28 55-32 50-34 45-86 90-118 100-90 66-105 71-105 65-75 41-45 20-45 13-45 1-30-7-30-16-45-41-45-58-44-75-36-75-29-75-22-75-14-75-8-75 0-60 5-60 10-60 17-60 23-60 30-60zM4180 2984l15-7 30-7 30 4 15 6 45 33 30 31 30 39 60 94 71 138 48 120 31 105 14 75 5 75-7 75-16 60-26 56-35 49-47 45-53 37-60 30-75 26-90 23-180 35-45 12-45 17-45 24-45 32-154 139-83 60-48 26-45 20-45 16-60 16-70 12-65 6-75 1-75-3-165-16-345-55-150-19-165-10-150 6-135 19-135 35-120 44-262 112-113 39-105 24-90 8 0-997 246-259 92-90 97-82 53-38 52-32 60-31 60-23 45-13 60-11 60-4 60 4 60 11 45 13 90 40 90 55 105 78 201 168 99 77 120 82 105 59 90 43 75 30 90 32 75 22 90 21 75 13 60 5 60 0 60-11 45-18 45-32 45-55 30-51 30-65 120-316 60-136 45-81 30-43 45-50zM4705 5025l60-1 75 7 75 14 60 18 75 31 60 32 60 40 48 39 46 45 49 60 37 55 30 56 28 69 18 60 12 60 7 75-1 75-6 60-17 75-20 60-26 60-34 60-36 52-46 53-47 45-57 45-60 37-60 30-60 24-75 22-75 13-75 6-60 0-75-6-75-13-60-15-60-20-60-25-60-32-54-36-36-30-43-45-22-30-26-45-19-45-17-60-10-60-5-60 0-75 8-90 15-90 19-75 25-75 32-75 32-60 41-64 45-55 45-45 45-36 63-40 57-28 75-26 60-13zM7945 5700l75-6 75 3 75 12 60 15 0 1316-60 15-60 10-60 4-75-2-75-10-60-14-60-20-60-27-60-34-60-43-54-49-42-45-39-51-34-54-30-60-23-60-17-60-13-75-5-75 3-60 9-75 15-60 19-60 27-60 33-60 43-60 48-55 45-42 49-38 56-36 60-30 60-23 60-18zM3175 6255l75 0 75 7 75 14 75 21 60 25 60 33 46 35 44 45 31 45 29 60 18 60 11 60 6 75-1 75-10 90-16 75-23 75-24 60-30 60-39 60-42 52-45 46-45 37-60 40-60 32-75 29-60 18-75 14-75 8-75-1-75-7-75-14-105-34-54-25-52-30-44-31-45-39-31-35-32-45-23-45-17-45-11-45-9-60-1-60 3-60 8-60 15-75 17-60 22-60 27-60 26-45 30-45 36-45 45-45 36-30 43-30 53-30 48-23 60-22 60-18 60-13 60-8zM1195 7276l60 6 60 11 60 17 60 24 57 31 33 23 40 37 24 30 16 30 14 45 2 45-6 31-18 44-27 40-34 35-41 30-30 17-45 19-75 18-75 4-45-4-45-9 0-524zM4450 7785l60-4 45 5 45 12 45 19 45 29 45 39 42 50 33 49 30 57 31 74 27 90 16 75 10 75 4 75-3 75-9 65-745 0-29-65-19-60-14-60-7-60-1-75 5-60 12-60 18-60 26-60 25-45 38-50 39-40 38-30 51-30 52-20z"/>
<path fill="#ffdf00" d="M4210 1541l10-11 778 0 26 45 19 45 13 45 7 60 0 45-9 60-13 45-19 45-24 45-30 45-36 45-42 45-49 45-55 45-66 48-60 38-120 64-60 25-45 13-45 8-30 1-45-7-30-11-45-28-30-27-30-36-36-58-29-60-21-60-14-60-9-60-3-60 3-60 9-60 16-60 24-60 23-45 28-45zM4195 3150l15-5 30-3 30 5 30 15 30 22 30 30 51 71 26 45 28 58 33 92 12 49 9 56 2 45-2 45-12 60-26 60-33 45-51 45-52 30-75 25-75 12-75-1-45-7-47-14-29-15-34-30-18-30-8-30-5-45 2-45 13-90 24-105 32-105 35-90 35-69 45-67 30-31 17-13zM1960 3193l75-5 75 7 75 19 90 39 60 34 75 51 330 259 90 63 90 56 90 48 90 43 120 51 224 87 67 30 53 30 31 25 18 20 16 30 6 30-1 30-6 30-10 30-24 45-33 45-28 30-36 30-37 25-38 20-52 21-45 14-60 12-105 9-120-2-135-13-330-48-150-17-150-8-150 5-135 19-135 33-120 42-240 100-120 39-105 20-90 2 0-798 135-139 210-227 60-59 62-55 82-60 81-45 75-30zM4675 5113l60-4 60 1 60 7 60 14 60 20 45 19 60 33 46 32 44 37 45 46 41 52 29 45 23 45 24 60 17 60 11 60 4 60-1 60-8 60-14 60-21 60-21 45-35 60-33 45-40 45-36 33-45 35-60 38-60 29-60 21-60 16-60 9-60 4-60-1-60-6-60-12-56-16-49-18-55-27-50-30-45-35-41-40-26-30-30-45-23-45-17-45-13-48-10-57-4-60 2-75 9-75 12-60 23-75 25-60 30-60 29-45 34-45 45-48 45-38 45-32 45-25 60-25 60-18zM7915 5787l75-10 90 1 75 11 75 21 0 1144-90 23-60 8-60 2-60-3-60-11-60-16-45-17-53-25-52-32-45-33-45-41-39-44-36-49-30-50-24-51-21-60-15-60-8-60-2-60 3-60 10-60 16-60 17-45 24-51 32-54 33-45 40-45 45-41 46-34 49-30 55-27 60-21zM3025 6330l60-9 75-5 60 2 60 7 60 13 60 19 45 20 45 26 44 32 32 30 29 34 30 46 26 55 15 45 10 45 7 60 1 60-6 75-11 60-17 60-23 60-22 45-37 60-33 42-45 48-35 30-55 39-45 25-60 27-60 20-60 13-60 8-60 2-60-3-60-9-45-10-60-20-45-19-45-24-45-31-39-33-29-30-24-30-28-45-21-45-15-45-9-45-6-45-1-45 3-60 8-60 14-60 19-60 23-53 28-52 32-48 35-42 40-39 45-36 45-29 45-23 54-23 51-16zM1195 7422l45-3 45 7 45 18 37 26 24 30 10 30 1 15-7 30-21 30-20 15-24 11-45 10-30 0-30-4-45-18 0-193zM4450 7902l45-7 45 0 45 9 45 17 45 29 30 26 42 49 30 45 30 60 22 60 16 60 13 75 4 75-2 60-10 60-15 50-551 0-14-22-23-43-18-45-14-45-11-60-5-60 2-45 5-45 10-45 15-45 21-45 28-45 24-30 31-30 40-30 30-16z"/>
<path fill="#ffbf00" d="M4345 1535l7-5 530 0 33 33 30 42 22 45 17 60 4 30 0 45-6 45-12 45-18 45-22 40-23 35-37 45-78 75-57 44-45 29-60 34-45 21-60 22-45 11-60 5-45-6-45-15-45-29-40-41-35-54-28-66-16-60-8-60 1-75 12-75 20-60 28-60 36-54 44-51zM1975 3268l75-6 45 2 45 7 75 21 90 41 60 35 75 52 270 209 135 95 135 81 270 140 98 60 38 30 29 30 20 30 12 30 5 30-4 45-11 30-18 30-26 30-23 19-39 26-36 18-45 16-45 11-105 13-90 1-105-7-390-49-165-15-165-3-150 12-120 21-105 27-105 36-210 82-105 33-60 12-45 4-60 0-45-7 0-582 195-206 201-227 58-60 49-45 67-53 75-46 75-33zM4225 3314l30-1 30 9 30 19 32 34 28 44 20 46 13 45 8 60-2 45-9 42-14 33-20 30-26 26-30 20-35 14-40 7-30-1-30-6-32-15-28-23-16-22-14-30-8-30-5-45 2-45 10-60 13-45 19-45 16-30 28-37 30-26zM4735 5190l60 1 45 6 60 13 45 15 45 19 45 25 45 31 45 39 30 31 35 45 29 45 22 45 17 45 13 45 9 45 5 60-2 60-6 45-10 45-15 45-19 45-25 45-31 45-38 45-44 40-45 34-45 26-45 22-45 16-60 16-45 7-60 4-60-2-45-6-60-13-45-15-45-19-45-24-38-26-37-31-30-30-30-38-23-36-23-45-16-45-12-45-7-45-4-60 2-45 7-60 13-60 14-45 25-60 23-45 30-45 31-39 35-36 40-34 45-30 45-24 45-19 45-13 45-9zM7945 5863l75-7 75 4 75 15 60 20 0 973-60 20-60 13-45 5-60 1-60-6-45-10-45-13-45-19-45-23-45-29-33-27-42-40-30-35-31-45-25-45-20-45-15-45-13-60-5-45-1-60 6-60 9-45 13-45 18-45 23-45 29-45 27-35 38-40 37-32 45-31 45-26 45-20 45-15zM3040 6388l60-7 45-1 60 4 45 7 45 11 50 18 40 19 42 26 37 30 30 30 26 33 26 42 20 45 15 45 9 45 5 45 0 45-5 60-12 60-13 45-18 45-27 51-30 45-32 39-29 30-44 37-45 30-45 24-45 19-60 18-45 9-60 6-60-1-45-5-45-8-45-13-45-17-45-23-65-46-32-30-26-30-27-40-18-35-26-75-8-45-4-45 1-45 6-60 22-90 18-45 22-45 51-75 26-30 45-41 73-49 47-23 45-17zM4495 8023l45-3 30 4 45 16 30 19 30 26 30 35 25 40 20 44 15 46 13 60 4 60-2 45-8 45-15 45-22 41-19 24-285 0-26-24-30-36-22-35-21-45-17-60-7-75 6-60 17-60 13-30 19-30 40-45 47-32z"/>
<path fill="#ff9f00" d="M4540 1544l75-10 45 2 30 5 60 19 30 16 30 20 26 24 19 23 30 52 16 60 2 30-3 45-11 45-12 30-34 60-50 60-58 52-75 48-75 34-75 17-60 1-45-11-41-21-34-29-30-39-26-52-12-45-8-60 4-60 12-58 18-47 24-45 33-45 45-45 45-32 56-28zM1990 3343l45-6 60-1 45 5 60 13 45 16 60 27 60 34 60 39 360 273 120 80 221 137 63 45 36 30 28 30 21 30 17 45 2 30-3 15-10 28-10 17-29 30-51 32-33 13-42 12-75 11-90 4-105-5-360-40-135-10-120-4-120 2-150 14-135 26-105 30-240 82-105 24-60 5-45-4-47-12-43-24 0-293 30-43 61-75 164-184 183-221 87-92 67-58 68-47 75-37zM4675 5279l45-6 45-1 45 3 45 7 45 13 45 18 73 42 62 53 30 35 23 32 22 38 17 37 15 45 10 45 6 45 0 45-4 45-8 45-26 75-24 45-20 30-26 33-30 31-30 26-45 31-75 37-45 15-45 10-45 5-45 1-81-9-39-9-45-16-43-20-32-19-35-26-33-30-49-60-18-31-20-44-21-75-6-45-1-45 3-45 7-45 11-45 17-45 40-77 30-41 29-32 61-52 38-23 37-18 45-17zM7990 5939l60-1 60 7 60 15 60 25 0 793-75 30-45 10-45 6-45 2-45-4-75-16-45-16-45-22-68-48-58-60-24-32-25-43-31-75-11-45-6-45-1-45 3-45 15-75 16-45 22-45 48-70 30-32 30-27 30-22 45-27 75-30 45-11zM3100 6450l45 0 45 5 45 10 45 15 34 15 41 25 30 23 28 27 25 30 19 30 18 35 15 40 15 75 2 45-3 45-8 45-13 45-33 75-20 32-30 39-60 58-30 22-45 26-75 30-45 10-45 7-45 1-45-3-75-15-68-27-37-21-30-22-48-47-23-30-19-32-15-33-13-40-13-75 2-75 15-75 29-75 40-65 49-55 57-45 74-39 75-24 45-9zM4525 8213l15-3 30 2 30 17 15 15 14 21 12 30 7 45-3 26-5 19-10 20-15 17-15 11-15 5-30 1-30-11-30-28-15-25-8-20-6-45 10-45 19-31 15-13z"/>
<path fill="#ff8000" d="M4555 1661l45-8 45 2 40 10 35 18 30 25 23 32 15 45 2 45-9 45-21 45-25 34-42 41-48 32-45 20-45 10-45 1-30-6-30-14-30-24-15-19-16-30-9-30-4-30 0-30 9-45 10-30 16-30 22-30 17-19 32-26 28-17zM2020 3417l45-6 60 0 45 7 60 15 45 18 60 29 60 36 58 39 302 234 231 171 70 60 39 45 22 45 4 30-2 15-14 30-13 15-19 15-33 17-60 17-75 9-75 2-75-3-435-33-210-4-135 7-135 15-120 21-195 45-75 11-45 1-30-6-25-9-20-14-12-16-7-15-3-15 0-30 12-45 22-45 50-75 275-375 50-60 42-45 36-34 45-36 45-30 45-24 45-17zM4675 5369l75-10 75 6 68 20 58 30 54 42 45 51 33 57 13 30 12 45 8 60-5 75-16 60-30 62-44 58-50 45-56 34-30 13-45 14-60 10-75-2-75-17-60-27-56-40-49-53-32-52-13-31-13-44-8-60 5-75 19-75 29-60 43-58 51-47 54-33 30-14zM7975 6029l75-4 60 9 60 20 60 32 0 591-30 18-45 20-30 10-45 9-75 3-75-13-60-24-60-38-50-47-40-57-28-63-15-60-3-75 9-60 8-30 18-45 37-60 49-52 52-38 65-30zM3025 6536l75-8 60 5 60 16 60 30 45 36 38 45 30 60 16 60 3 60-5 45-7 30-23 60-37 60-45 48-60 42-60 27-60 14-60 4-60-6-60-19-60-32-39-33-37-45-30-60-14-60-3-60 8-60 20-60 34-60 37-45 54-44 60-31z"/>
<path fill="#ff6000" d="M2065 3494l45-4 45 3 45 7 60 18 50 22 55 30 111 75 94 75 141 120 84 75 60 60 36 45 21 45 2 30-5 15-10 15-18 15-21 11-60 17-75 8-90 2-450-19-405-10-90-11-38-13-22-15-15-18-9-27 1-45 11-45 23-60 28-60 42-75 39-60 34-45 40-45 31-31 45-36 36-23 39-20 45-16zM4690 5471l45-8 60 1 45 11 45 20 45 33 30 32 30 49 15 42 8 49-2 45-15 60-21 42-24 33-36 34-45 28-45 17-45 9-60-1-45-10-45-19-41-28-34-35-26-40-17-45-9-45 2-60 10-45 20-45 32-45 33-32 45-29zM7975 6134l30-4 45-1 60 12 45 20 28 19 47 46 0 310-31 34-42 30-32 16-45 13-60 5-45-6-45-14-45-25-30-25-34-39-24-45-15-45-5-45 5-60 14-45 24-45 35-42 30-24 45-25zM3070 6629l45 1 45 10 42 20 33 25 30 35 16 30 14 45 3 45-6 45-17 45-25 40-30 32-30 22-45 22-45 12-45 2-45-6-45-17-30-19-30-28-22-30-14-30-9-31-4-44 5-45 14-44 17-31 28-35 30-26 45-26 30-10z"/>
<path fill="#ff4000" d="M2110 3584l30-1 45 3 45 9 45 15 45 21 45 25 90 64 53 45 62 60 41 45 35 45 26 45 8 30-3 30-8 15-16 15-28 15-65 17-120 9-150-1-165-10-120-15-90-23-45-21-21-16-15-15-17-30-8-30 0-30 4-30 13-45 14-33 23-42 22-31 30-35 30-28 30-22 30-18 36-16 39-11zM4720 5638l30-8 15-1 30 8 25 18 20 30 5 30-5 30-20 30-25 18-30 8-15 1-30-8-26-19-18-30-5-30 6-30 20-30zM8020 6300l30 2 30 15 14 13 9 15 8 30-3 30-17 30-26 20-30 8-30-4-30-17-17-22-9-30 2-30 15-30 24-20z"/>
<path fill="#ff2000" d="M2125 3718l45-7 60 7 48 17 53 30 52 45 34 45 12 30 2 15-2 15-6 15-13 15-15 9-30 12-45 9-60 3-60-4-60-11-45-15-34-18-31-30-15-30-3-30 7-30 16-30 27-30 33-21z"/>
</g>
<g stroke="#000" stroke-width="1" fill="none" shape-rendering="crispEdges">
<rect x="118.5" y="153.5" width="704" height="703"/>
</g>
<g stroke="#000" fill="none">
<path stroke-width="0.75" d="M175.83 153 v-9.7 M175.83 857 v9.7"/>
<path stroke-width="1" d="M234.73 153 v-19.7 M234.73 857 v19.7"/>
<path stroke-width="0.75" d="M293.62 153 v-9.7 M293.62 857 v9.7"/>
<path stroke-width="1" d="M352.51 153 v-19.7 M352.51 857 v19.7"/>
<path stroke-width="0.75" d="M411.41 153 v-9.7 M411.41 857 v9.7"/>
<path stroke-width="1" d="M470.30 153 v-19.7 M470.30 857 v19.7"/>
<path stroke-width="0.75" d="M529.19 153 v-9.7 M529.19 857 v9.7"/>
<path stroke-width="1" d="M588.09 153 v-19.7 M588.09 857 v19.7"/>
<path stroke-width="0.75" d="M646.98 153 v-9.7 M646.98 857 v9.7"/>
<path stroke-width="1" d="M705.87 153 v-19.7 M705.87 857 v19.7"/>
<path stroke-width="0.75" d="M764.77 153 v-9.7 M764.77 857 v9.7"/>
<path stroke-width="0.75" d="M118 820.20 h-9.7 M823 820.20 h9.7"/>
<path stroke-width="0.75" d="M118 780.85 h-9.7 M823 780.85 h9.7"/>
<path stroke-width="1" d="M118 741.51 h-19.7 M823 741.51 h19.7"/>
<path stroke-width="0.75" d="M118 702.17 h-9.7 M823 702.17 h9.7"/>
<path stroke-width="0.75" d="M118 662.82 h-9.7 M823 662.82 h9.7"/>
<path stroke-width="1" d="M118 623.48 h-19.7 M823 623.48 h19.7"/>
<path stroke-width="0.75" d="M118 584.14 h-9.7 M823 584.14 h9.7"/>
<path stroke-width="0.75" d="M118 544.79 h-9.7 M823 544.79 h9.7"/>
<path stroke-width="1" d="M118 505.45 h-19.7 M823 505.45 h19.7"/>
<path stroke-width="0.75" d="M118 466.11 h-9.7 M823 466.11 h9.7"/>
<path stroke-width="0.75" d="M118 426.76 h-9.7 M823 426.76 h9.7"/>
<path stroke-width="1" d="M118 387.42 h-19.7 M823 387.42 h19.7"/>
<path stroke-width="0.75" d="M118 348.08 h-9.7 M823 348.08 h9.7"/>
<path stroke-width="0.75" d="M118 308.73 h-9.7 M823 308.73 h9.7"/>
<path stroke-width="1" d="M118 269.39 h-19.7 M823 269.39 h19.7"/>
<path stroke-width="0.75" d="M118 230.05 h-9.7 M823 230.05 h9.7"/>
<path stroke-width="0.75" d="M118 190.70 h-9.7 M823 190.70 h9.7"/>
</g>
<g shape-rendering="crispEdges">
<rect x="888" y="832.32" width="42" height="19.18" fill="#54009f"/>
<rect x="888" y="813.65" width="42" height="19.18" fill="#4200b7"/>
<rect x="888" y="794.97" width="42" height="19.18" fill="#3000d3"/>
<rect x="888" y="776.30" width="42" height="19.18" fill="#1a00ee"/>
<rect x="888" y="757.62" width="42" height="19.18" fill="#0000ff"/>
<rect x="888" y="738.95" width="42" height="19.18" fill="#0020ff"/>
<rect x="888" y="720.27" width="42" height="19.18" fill="#0040ff"/>
<rect x="888" y="701.59" width="42" height="19.18" fill="#0060ff"/>
<rect x="888" y="682.92" width="42" height="19.18" fill="#0080ff"/>
<rect x="888" y="664.24" width="42" height="19.18" fill="#009fff"/>
<rect x="888" y="645.57" width="42" height="19.18" fill="#00bfff"/>
<rect x="888" y="626.89" width="42" height="19.18" fill="#00dfff"/>
<rect x="888" y="608.22" width="42" height="19.18" fill="#00ffff"/>
<rect x="888" y="589.54" width="42" height="19.18" fill="#00fedf"/>
<rect x="888" y="570.86" width="42" height="19.18" fill="#ffffff"/>
<rect x="888" y="552.19" width="42" height="19.18" fill="#00fd9f"/>
<rect x="888" y="533.51" width="42" height="19.18" fill="#00fc80"/>
<rect x="888" y="514.84" width="42" height="19.18" fill="#00fb60"/>
<rect x="888" y="496.16" width="42" height="19.18" fill="#00fa40"/>
<rect x="888" y="477.49" width="42" height="19.18" fill="#00fa20"/>
<rect x="888" y="458.81" width="42" height="19.18" fill="#00f908"/>
<rect x="888" y="440.14" width="42" height="19.18" fill="#20fa00"/>
<rect x="888" y="421.46" width="42" height="19.18" fill="#40fc00"/>
<rect x="888" y="402.78" width="42" height="19.18" fill="#60fe00"/>
<rect x="888" y="384.11" width="42" height="19.18" fill="#80ff00"/>
<rect x="888" y="365.43" width="42" height="19.18" fill="#9fff00"/>
<rect x="888" y="346.76" width="42" height="19.18" fill="#bfff00"/>
<rect x="888" y="328.08" width="42" height="19.18" fill="#dfff00"/>
<rect x="888" y="309.41" width="42" height="19.18" fill="#ffff00"/>
<rect x="888" y="290.73" width="42" height="19.18" fill="#ffdf00"/>
<rect x="888" y="272.05" width="42" height="19.18" fill="#ffbf00"/>
<rect x="888" y="253.38" width="42" height="19.18" fill="#ff9f00"/>
<rect x="888" y="234.70" width="42" height="19.18" fill="#ff8000"/>
<rect x="888" y="216.03" width="42" height="19.18" fill="#ff6000"/>
<rect x="888" y="197.35" width="42" height="19.18" fill="#ff4000"/>
<rect x="888" y="178.68" width="42" height="19.18" fill="#ff2000"/>
<rect x="888" y="160.00" width="42" height="19.18" fill="#ff0000"/>
</g>
<g stroke="#000" stroke-width="0.65" fill="none">
<rect x="888.25" y="160.25" width="41.5" height="690.5" stroke-opacity="0.5"/>
<path d="M888 832.32 h42M888 813.65 h42M888 794.97 h42M888 776.30 h42M888 757.62 h42M888 738.95 h42M888 720.27 h42M888 701.59 h42M888 682.92 h42M888 664.24 h42M888 645.57 h42M888 626.89 h42M888 608.22 h42M888 589.54 h42M888 570.86 h42M888 552.19 h42M888 533.51 h42M888 514.84 h42M888 496.16 h42M888 477.49 h42M888 458.81 h42M888 440.14 h42M888 421.46 h42M888 402.78 h42M888 384.11 h42M888 365.43 h42M888 346.76 h42M888 328.08 h42M888 309.41 h42M888 290.73 h42M888 272.05 h42M888 253.38 h42M888 234.70 h42M888 216.03 h42M888 197.35 h42M888 178.68 h42"/>
</g>
<g class="t" font-size="15.8" fill="#000" text-anchor="middle">
<text x="960" y="838.72">-13.5</text>
<text x="960" y="820.05">-12.5</text>
<text x="960" y="801.37">-11.5</text>
<text x="960" y="782.70">-10.5</text>
<text x="960" y="764.02">-9.5</text>
<text x="960" y="745.35">-8.5</text>
<text x="960" y="726.67">-7.5</text>
<text x="960" y="707.99">-6.5</text>
<text x="960" y="689.32">-5.5</text>
<text x="960" y="670.64">-4.5</text>
<text x="960" y="651.97">-3.5</text>
<text x="960" y="633.29">-2.5</text>
<text x="960" y="614.62">-1.5</text>
<text x="960" y="595.94">-0.5</text>
<text x="960" y="577.26">0.5</text>
<text x="960" y="558.59">1.5</text>
<text x="960" y="539.91">2.5</text>
<text x="960" y="521.24">3.5</text>
<text x="960" y="502.56">4.5</text>
<text x="960" y="483.89">5.5</text>
<text x="960" y="465.21">6.5</text>
<text x="960" y="446.54">7.5</text>
<text x="960" y="427.86">8.5</text>
<text x="960" y="409.18">9.5</text>
<text x="960" y="390.51">10.5</text>
<text x="960" y="371.83">11.5</text>
<text x="960" y="353.16">12.5</text>
<text x="960" y="334.48">13.5</text>
<text x="960" y="315.81">14.5</text>
<text x="960" y="297.13">15.5</text>
<text x="960" y="278.45">16.5</text>
<text x="960" y="259.78">17.5</text>
<text x="960" y="241.10">18.5</text>
<text x="960" y="222.43">19.5</text>
<text x="960" y="203.75">20.5</text>
<text x="960" y="185.08">21.5</text>
</g>
<g class="t" font-size="32.6" fill="#000">
<text x="117.2" y="129.6">diff</text>
<text x="824.3" y="123.4" text-anchor="end">degree</text>
<text x="78.7" y="281" text-anchor="end">60N</text>
<text x="78.7" y="399" text-anchor="end">30N</text>
<text x="78.5" y="517" text-anchor="end">0</text>
<text x="78.7" y="635" text-anchor="end">30S</text>
<text x="78.7" y="753" text-anchor="end">60S</text>
<text x="233.2" y="923.7" text-anchor="middle">120W</text>
<text x="351.3" y="923.7" text-anchor="middle">60W</text>
<text x="470.5" y="923.7" text-anchor="middle">0</text>
<text x="587.7" y="923.7" text-anchor="middle">60E</text>
<text x="705" y="923.7" text-anchor="middle">120E</text>
</g>
</svg>
</body></html>
